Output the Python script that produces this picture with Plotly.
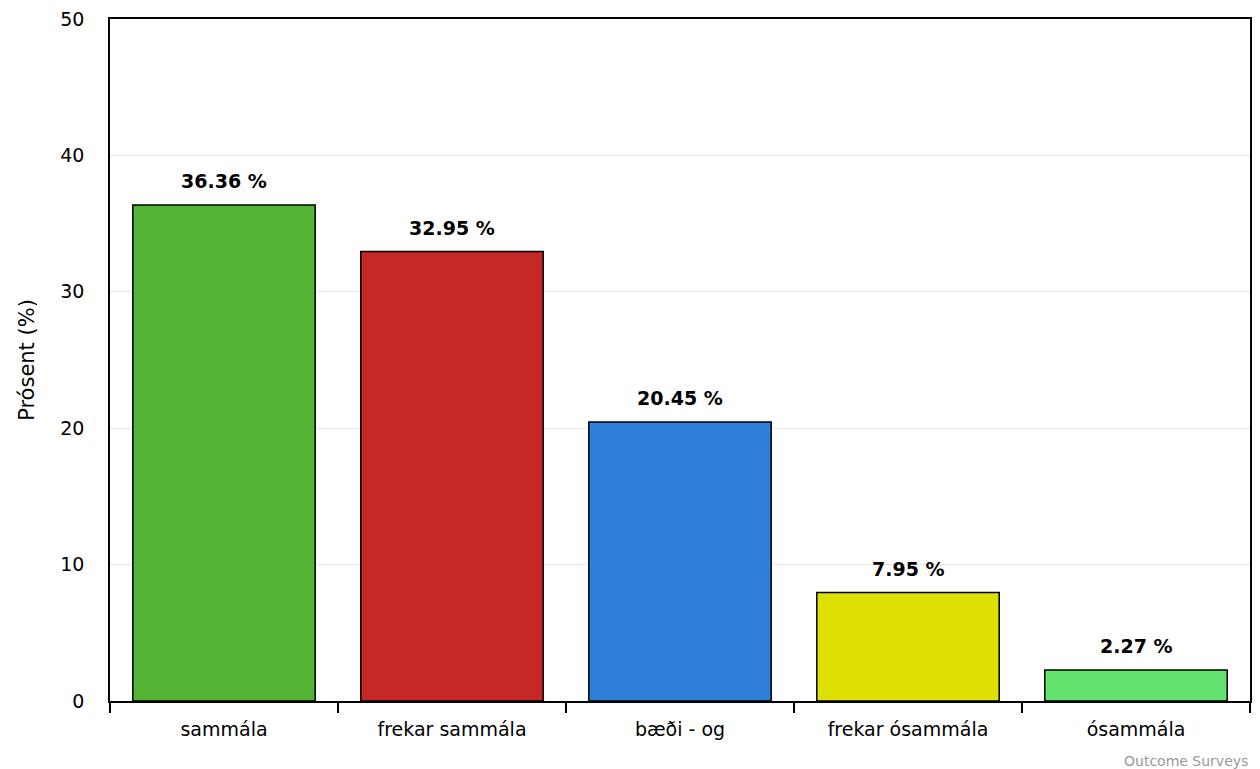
import plotly.graph_objects as go

categories = ["sammála", "frekar sammála", "bæði - og", "frekar ósammála", "ósammála"]
values = [36.36, 32.95, 20.45, 7.95, 2.27]
colors = ["#52b335", "#c62828", "#2f7ed8", "#dde000", "#63e26e"]
y_ticks = [0, 10, 20, 30, 40, 50]

FONT = "DejaVu Sans"

fig = go.Figure()
fig.add_trace(go.Bar(
    x=categories, y=values,
    marker=dict(color=colors, line=dict(color="#000000", width=1.5)),
    width=0.8,
    hoverinfo="x+y",
))

for c, v in zip(categories, values):
    fig.add_annotation(x=c, y=v, text=f"<b>{v:.2f} %</b>", showarrow=False,
                       yanchor="bottom", yshift=11,
                       font=dict(family=FONT, size=19, color="#000000"))

fig.add_annotation(xref="paper", yref="paper", x=1.0, y=-0.074, xanchor="right", yanchor="top",
                   text="Outcome Surveys", showarrow=False,
                   font=dict(family=FONT, size=14, color="#999999"))

fig.update_layout(
    width=1260, height=769,
    margin=dict(l=110, r=8, t=17, b=68),
    paper_bgcolor="white", plot_bgcolor="white",
    showlegend=False,
    bargap=0.2,
    font=dict(family=FONT, size=19, color="#000000"),
    xaxis=dict(
        showline=True, linecolor="#000000", linewidth=1.5, mirror=True,
        ticks="outside", ticklen=10, tickcolor="#000000", tickwidth=1.5,
        tickson="boundaries", showgrid=False, ticklabelstandoff=10,
        tickfont=dict(family=FONT, size=19, color="#000000"),
    ),
    yaxis=dict(
        range=[0, 50], tickvals=y_ticks,
        showline=True, linecolor="#000000", linewidth=1.5, mirror=True,
        showgrid=True, gridcolor="#e6e6e6", gridwidth=1,
        zeroline=False, ticks="", ticklabelstandoff=20,
        tickfont=dict(family=FONT, size=19, color="#000000"),
        title=dict(text="Prósent (%)", font=dict(family=FONT, size=21, color="#000000"), standoff=20),
    ),
)

fig.write_html("out.html", config={"displayModeBar": False},
               post_script="document.body.style.margin='0';document.body.style.overflow='hidden';")
